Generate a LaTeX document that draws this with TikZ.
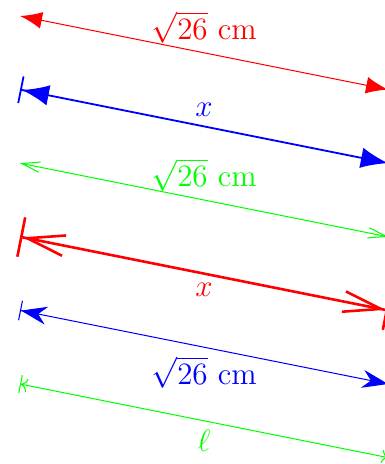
\documentclass[tikz,border=0pt]{standalone}
\usetikzlibrary{arrows.meta}
\begin{document}
\begin{tikzpicture}[
  lbl/.style={font=\large},
]
\useasboundingbox (-0.272,0.217) rectangle (4.946,-6.087);
\foreach \k in {0,...,5}{
  \coordinate (a\k) at (0,-\k);
  \coordinate (b\k) at (5,-\k-1);
}
% 1
\draw[red, {Latex[length=8.5pt,width=6.5pt]}-{Latex[length=8.5pt,width=6.5pt]}]
  (a0) -- node[lbl, above] (t0) {$\sqrt{26}$ cm} (b0);
% 2
\draw[blue, line width=0.7pt, {Bar[width=10.5pt]Latex[length=10.5pt,width=8pt]}-{Latex[length=10.5pt,width=8pt]}]
  (a1) -- node[lbl, above] (t1) {$x$} (b1);
% 3
\draw[green, {Straight Barb[length=7pt,width=4pt]}-{Straight Barb[length=7pt,width=4pt]}]
  (a2) -- node[lbl, above] (t2) {$\sqrt{26}$ cm} (b2);
% 4
\draw[red, line width=1pt, {Bar[width=15.5pt]Straight Barb[length=14.5pt,width=8pt]}-{Straight Barb[length=14.5pt,width=8pt]Bar[width=15.5pt]}]
  (a3) -- node[lbl, below] (t3) {$x$} (b3);
% 5
\draw[blue, {Bar[width=7.7pt]Stealth[length=10pt,width=7pt]}-{Stealth[length=10pt,width=7pt]}]
  (a4) -- node[lbl, below] (t4) {$\sqrt{26}$ cm} (b4);
% 6
\draw[green, {Bar[width=7pt]To}-{To}]
  (a5) -- node[lbl, below] (t5) {$\ell$} (b5);
\end{tikzpicture}
\end{document}
